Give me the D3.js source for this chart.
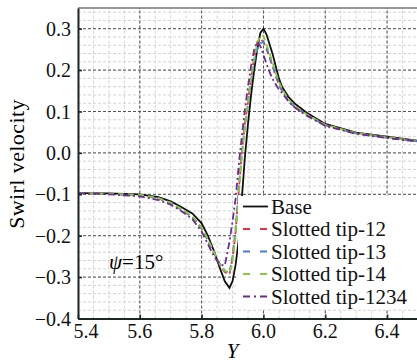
<!DOCTYPE html>
<html><head><meta charset="utf-8"><script src="https://cdn.jsdelivr.net/npm/d3@7"></script>
<style>body { margin: 0; font-family: "Times New Roman"; }</style>
</head>
<body>
<script>
// Data
const xs = [5.40, 5.50, 5.60, 5.66, 5.70, 5.73, 5.77, 5.80, 5.82, 5.84, 5.86, 5.875, 5.89, 5.90, 5.91, 5.92, 5.93, 5.94, 5.95, 5.96, 5.97, 5.98, 5.99, 6.00, 6.01, 6.02, 6.03, 6.04, 6.05, 6.06, 6.08, 6.10, 6.14, 6.20, 6.30, 6.40, 6.50];

const base = [-0.097, -0.098, -0.100, -0.107, -0.117, -0.129, -0.146, -0.170, -0.200, -0.237, -0.280, -0.310, -0.326, -0.310, -0.270, -0.210, -0.110, -0.010, 0.070, 0.140, 0.200, 0.250, 0.290, 0.300, 0.286, 0.262, 0.238, 0.208, 0.180, 0.160, 0.136, 0.120, 0.097, 0.070, 0.049, 0.039, 0.029];
const tip12 = [-0.097, -0.099, -0.102, -0.110, -0.121, -0.135, -0.155, -0.183, -0.210, -0.242, -0.272, -0.288, -0.294, -0.255, -0.190, -0.090, 0.000, 0.070, 0.125, 0.180, 0.230, 0.268, 0.276, 0.268, 0.250, 0.230, 0.208, 0.185, 0.165, 0.150, 0.126, 0.112, 0.092, 0.067, 0.047, 0.037, 0.028];
const tip13 = [-0.097, -0.099, -0.102, -0.110, -0.121, -0.135, -0.155, -0.183, -0.210, -0.242, -0.270, -0.285, -0.290, -0.250, -0.185, -0.085, 0.000, 0.065, 0.120, 0.175, 0.220, 0.250, 0.265, 0.268, 0.255, 0.232, 0.210, 0.188, 0.167, 0.151, 0.126, 0.112, 0.092, 0.067, 0.047, 0.037, 0.028];
const tip14 = [-0.097, -0.099, -0.101, -0.109, -0.120, -0.133, -0.153, -0.180, -0.208, -0.240, -0.270, -0.285, -0.290, -0.260, -0.200, -0.100, -0.010, 0.065, 0.125, 0.180, 0.230, 0.265, 0.283, 0.282, 0.262, 0.240, 0.217, 0.193, 0.172, 0.155, 0.130, 0.114, 0.093, 0.068, 0.048, 0.038, 0.028];
const tip1234 = [-0.097, -0.100, -0.105, -0.114, -0.125, -0.138, -0.160, -0.190, -0.220, -0.250, -0.270, -0.272, -0.215, -0.165, -0.110, -0.030, 0.040, 0.105, 0.160, 0.210, 0.250, 0.268, 0.258, 0.237, 0.215, 0.195, 0.178, 0.165, 0.153, 0.145, 0.125, 0.110, 0.090, 0.065, 0.046, 0.036, 0.027];

const seriesNames = ["Base", "Slotted tip-12", "Slotted tip-13", "Slotted tip-14", "Slotted tip-1234"];
const seriesColors = ["#111111", "#e8333c", "#3f7fd4", "#8dc63f", "#6b2d8c"];
const seriesDash = [null, "6,4", "6,4", "6,4", "7,3,2,3"];
const seriesValues = [base, tip12, tip13, tip14, tip1234];

const xTicks = [5.4, 5.6, 5.8, 6.0, 6.2, 6.4];
const yTicks = [-0.4, -0.3, -0.2, -0.1, 0.0, 0.1, 0.2, 0.3];

const W = 417, H = 363;
const margin = { top: 8, right: 0, bottom: 44.5, left: 78 };
const fontName = "\"Times New Roman\"";

const svg = d3.select("body").append("svg")
  .attr("width", W)
  .attr("height", H);

const x = d3.scaleLinear().domain([5.4, 6.5]).range([margin.left, 418]);
const y = d3.scaleLinear().domain([-0.4, 0.35]).range([H - margin.bottom, margin.top]);

// minor grid
const minorX = d3.range(5.4, 6.5001, 0.05);
const minorY = d3.range(-0.4, 0.3501, 0.02);
const grid = svg.append("g");
grid.selectAll(".mx").data(minorX).join("line")
  .attr("x1", d => x(d)).attr("x2", d => x(d))
  .attr("y1", y(-0.4)).attr("y2", y(0.35))
  .attr("stroke", "#d4d4d4").attr("stroke-width", 1).attr("stroke-dasharray", "3,2");
grid.selectAll(".my").data(minorY).join("line")
  .attr("x1", x(5.4)).attr("x2", W)
  .attr("y1", d => y(d)).attr("y2", d => y(d))
  .attr("stroke", "#d4d4d4").attr("stroke-width", 1).attr("stroke-dasharray", "3,2");

// major grid
grid.selectAll(".Mx").data(xTicks.slice(1)).join("line")
  .attr("x1", d => x(d)).attr("x2", d => x(d))
  .attr("y1", y(-0.4)).attr("y2", y(0.35))
  .attr("stroke", "#555").attr("stroke-width", 1).attr("stroke-dasharray", "3,2");
grid.selectAll(".My").data(yTicks.slice(1)).join("line")
  .attr("x1", x(5.4)).attr("x2", W)
  .attr("y1", d => y(d)).attr("y2", d => y(d))
  .attr("stroke", "#555").attr("stroke-width", 1).attr("stroke-dasharray", "3,2");

// top border
svg.append("line")
  .attr("x1", x(5.4)).attr("x2", W)
  .attr("y1", y(0.35)).attr("y2", y(0.35))
  .attr("stroke", "#333").attr("stroke-width", 1.2);

// curves
const line = d3.line()
  .x((d, i) => x(xs[i]))
  .y(d => y(d));

svg.append("g").selectAll("path")
  .data(seriesValues)
  .join("path")
  .attr("d", d => line(d))
  .attr("fill", "none")
  .attr("stroke", (d, i) => seriesColors[i])
  .attr("stroke-width", 1.8)
  .attr("stroke-dasharray", (d, i) => seriesDash[i]);

// axes: lines from d3, labels written as plain texts
const xAxis = svg.append("g")
  .attr("transform", `translate(0,${y(-0.4)})`)
  .call(d3.axisBottom(x).tickValues(xTicks).tickFormat("").tickSizeInner(-4).tickSizeOuter(0));
const yAxis = svg.append("g")
  .attr("transform", `translate(${x(5.4)},0)`)
  .call(d3.axisLeft(y).tickValues(yTicks).tickFormat("").tickSizeInner(-4).tickSizeOuter(0));

[xAxis, yAxis].forEach(a => {
  a.select(".domain").attr("stroke", "#1c2626").attr("stroke-width", 2);
  a.selectAll(".tick line").attr("stroke", "#1c2626").attr("stroke-width", 1.5);
  a.selectAll(".tick text").remove();
});

svg.append("g").selectAll("text")
  .data(xTicks)
  .join("text")
  .attr("x", d => x(d) + (d === 5.4 ? 8 : 0))
  .attr("y", 338)
  .attr("text-anchor", "middle")
  .attr("font-size", 20)
  .attr("fill", "#111")
  .style("font-family", fontName)
  .text(d => d.toFixed(1));

svg.append("g").selectAll("text")
  .data(yTicks)
  .join("text")
  .attr("x", 71)
  .attr("y", d => y(d) + 7)
  .attr("text-anchor", "end")
  .attr("font-size", 20)
  .attr("fill", "#111")
  .style("font-family", fontName)
  .text(d => d.toFixed(1).replace("-", "\u2212"));

// axis titles
svg.append("text")
  .attr("x", x(5.9)).attr("y", 358)
  .attr("text-anchor", "middle")
  .attr("font-size", 21)
  .attr("font-style", "italic")
  .style("font-family", fontName)
  .text("Y");

svg.append("text")
  .attr("transform", "translate(24,164) rotate(-90)")
  .attr("text-anchor", "middle")
  .attr("font-size", 22)
  .attr("letter-spacing", 0.4)
  .style("font-family", fontName)
  .text("Swirl velocity");

// annotation
const ann = svg.append("text")
  .attr("x", 109).attr("y", 269)
  .attr("font-size", 21)
  .style("font-family", fontName);
ann.append("tspan").attr("font-style", "italic").text("\u03c8");
ann.append("tspan").text("=15\u00b0");

// legend
const legend = svg.append("g");
legend.append("rect")
  .attr("x", 238).attr("y", 196)
  .attr("width", W - 238).attr("height", 113)
  .attr("fill", "#fff");
const rows = legend.selectAll("g.row")
  .data(seriesNames)
  .join("g")
  .attr("transform", (d, i) => `translate(0,${206.5 + i * 22.5})`);
rows.append("line")
  .attr("x1", 243).attr("x2", 268)
  .attr("stroke", (d, i) => seriesColors[i])
  .attr("stroke-width", 1.8)
  .attr("stroke-dasharray", (d, i) => i === 0 ? null : (i === 4 ? "7,4,2,4" : "7,10"));
rows.append("text")
  .attr("x", 271).attr("y", 7)
  .attr("font-size", 21)
  .attr("fill", "#111")
  .style("font-family", fontName)
  .text(d => d);
</script>
</body>
</html>
